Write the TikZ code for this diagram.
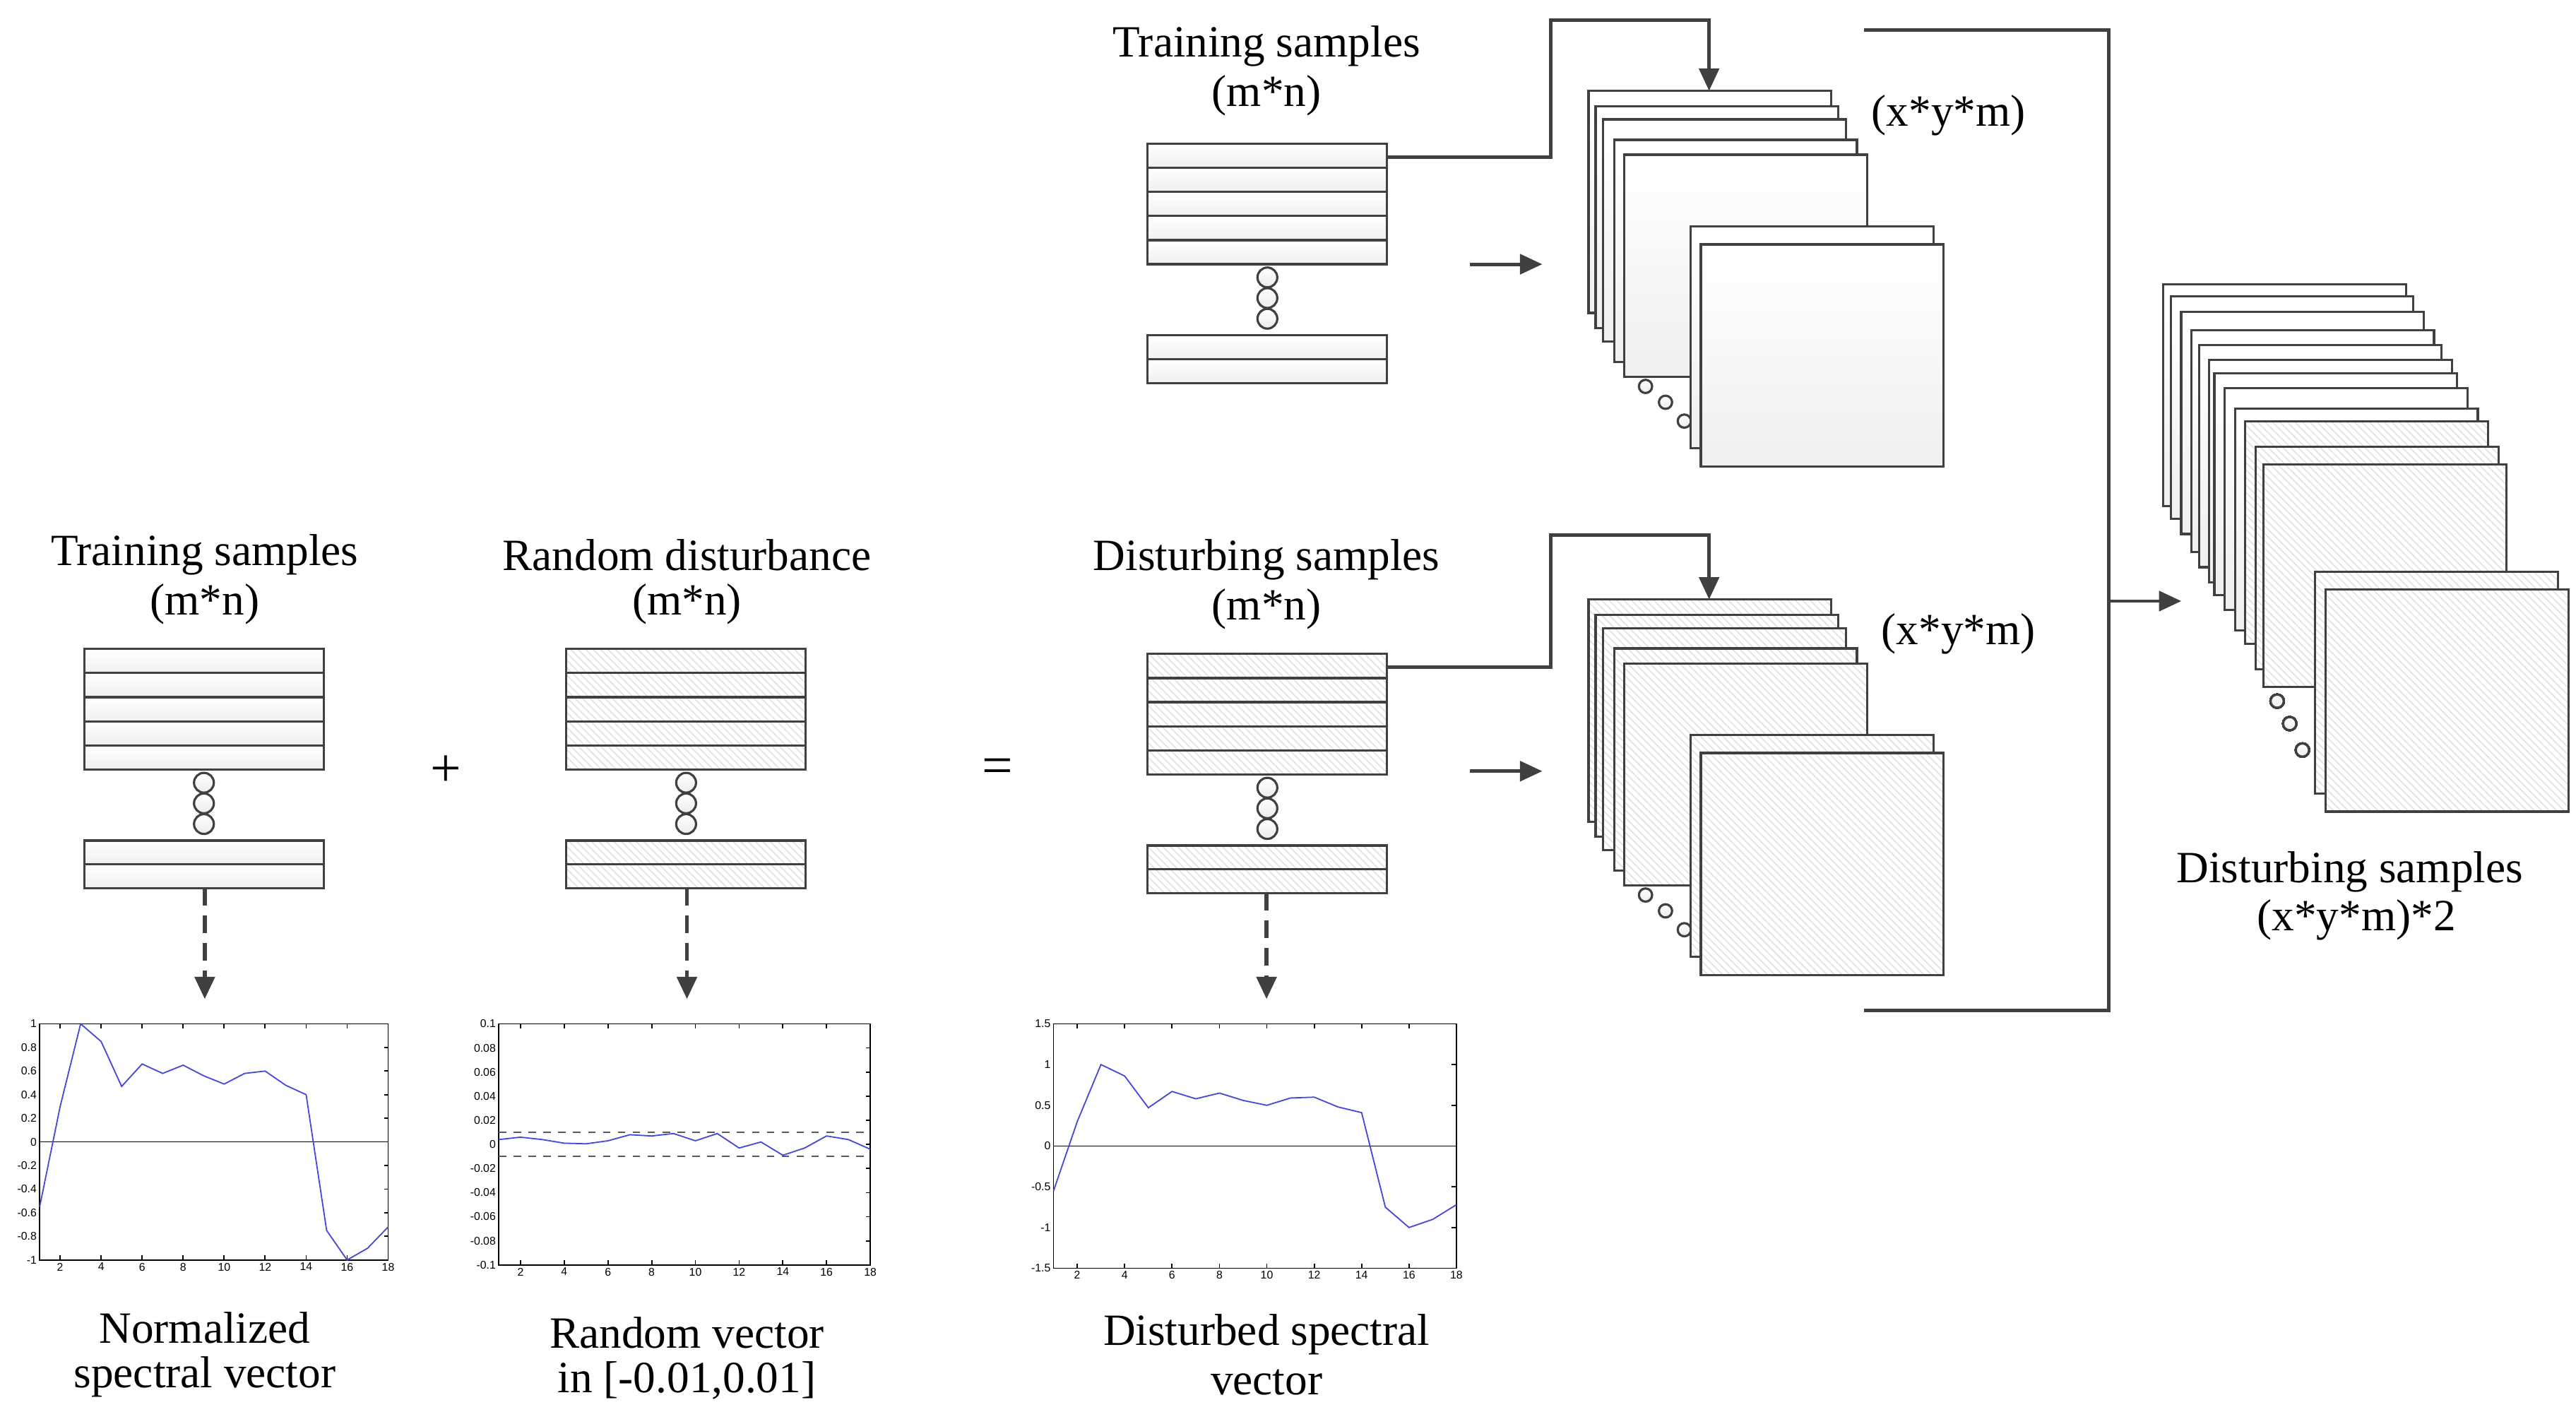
\documentclass[tikz,border=0pt]{standalone}
\usepackage{fontspec}
\setmainfont{Liberation Serif}
\newfontfamily\tickfont{Liberation Sans}
\usetikzlibrary{patterns,arrows.meta}
\definecolor{ln}{HTML}{404040}
\tikzset{
  lbl/.style={font=\fontsize{18}{21}\selectfont, align=center, inner sep=0pt},
  box/.style={draw=ln, line width=0.9pt},
  plain/.style={box, top color=white, bottom color=gray!12},
  hatch/.style={draw=ln, line width=0.9pt, preaction={fill=white}, pattern=north west lines, pattern color=gray!25},
  dot/.style={draw=ln, line width=0.9pt, top color=white, bottom color=gray!15},
  conn/.style={draw=ln, line width=1.4pt},
  arr/.style={conn, -{Triangle[length=9pt,width=8pt]}},
  darr/.style={draw=ln, line width=1.6pt, dash pattern=on 7pt off 4pt, -{Triangle[length=9pt,width=8pt]}},
  ax/.style={draw=black, line width=0.5pt},
  tick/.style={font=\tickfont\fontsize{4.5}{5}\selectfont, inner sep=1pt},
  curve/.style={draw=blue!75, line width=0.5pt}
}
\newcommand\sblock[3]{%
  \foreach \i in {0,...,4} \path[#3] (#1,{#2+\i*14.6}) rectangle ++(145,14.6);
  \foreach \j in {81,93.5,106} \path[dot] ({#1+72.5},{#2+\j}) circle (6);
  \path[#3] (#1,{#2+116}) rectangle ++(145,14.5);
  \path[#3] (#1,{#2+130.5}) rectangle ++(145,14.5);
}
\newcommand\sheet[3]{\path[#3] (#1,#2) rectangle ++(147,134.5);}
\begin{document}
\begin{tikzpicture}[x=0.023378cm,y=-0.023378cm]
\useasboundingbox (0,0) rectangle (1560,855);

% ---------- left block: training samples
\node[lbl] (t1) at (124,336) {Training samples};
\node[lbl] (t1b) at (124,366) {(m*n)};
\sblock{51}{393}{plain}
\coordinate (b1) at (124,538);
\coordinate (p1) at (124,605);
\draw[darr] (b1) -- (p1);

% ---------- middle block: random disturbance
\node[lbl] (t2) at (416,336) {Random disturbance};
\node[lbl] (t2b) at (416,366) {(m*n)};
\sblock{343}{393}{hatch}
\coordinate (b2) at (416,538);
\coordinate (p2) at (416,605);
\draw[darr] (b2) -- (p2);

\node[lbl, font=\fontsize{22}{24}\selectfont] (plus) at (270,467) {+};
\node[lbl, font=\fontsize{22}{24}\selectfont] (eq) at (604,467) {=};

% ---------- disturbing samples block
\node[lbl] (t3) at (767,339) {Disturbing samples};
\node[lbl] (t3b) at (767,369) {(m*n)};
\sblock{695}{396}{hatch}
\coordinate (b3) at (767,541);
\coordinate (p3) at (767,605);
\draw[darr] (b3) -- (p3);

% ---------- top training block
\node[lbl] (t4) at (767,28) {Training samples};
\node[lbl] (t4b) at (767,58) {(m*n)};
\sblock{695}{87}{plain}

% ---------- top stack
\sheet{962}{55}{plain}
\sheet{966.3}{64.2}{plain}
\sheet{970.8}{72.3}{plain}
\sheet{977.5}{84.7}{plain}
\sheet{983.7}{93.7}{plain}
\foreach \x/\y in {996.5/234,1008.6/243.6,1020/255} \path[dot] (\x,\y) circle (4);
\sheet{1023.8}{137}{plain}
\sheet{1030}{148}{plain}
\node[lbl] (l1) at (1180,70) {(x*y*m)};

% ---------- bottom stack
\sheet{962}{363}{hatch}
\sheet{966.3}{372.2}{hatch}
\sheet{970.8}{380.3}{hatch}
\sheet{977.5}{392.7}{hatch}
\sheet{983.7}{401.7}{hatch}
\foreach \x/\y in {996.5/542,1008.6/551.6,1020/563} \path[dot] (\x,\y) circle (4);
\sheet{1023.8}{445}{hatch}
\sheet{1030}{456}{hatch}
\node[lbl] (l2) at (1186,384) {(x*y*m)};

% connectors to stacks
\coordinate (s1) at (840,95);
\coordinate (e1) at (1035,55);
\draw[arr] (s1) -- (939,95) -- (939,12) -- (1035,12) -- (e1);
\coordinate (s2) at (840,404);
\coordinate (e2) at (1035,363);
\draw[arr] (s2) -- (939,404) -- (939,324) -- (1035,324) -- (e2);
\coordinate (a1s) at (890,160); \coordinate (a1e) at (934,160);
\draw[arr] (a1s) -- (a1e);
\coordinate (a2s) at (890,467); \coordinate (a2e) at (934,467);
\draw[arr] (a2s) -- (a2e);

% bracket
\coordinate (bt) at (1129,18);
\coordinate (bb) at (1129,612);
\draw[conn] (bt) -- (1277,18) -- (1277,612) -- (bb);
\coordinate (m1) at (1277,364); \coordinate (m2) at (1321,364);
\draw[arr] (m1) -- (m2);

% ---------- right stack
\foreach \l/\t in {1310/172,1314.5/179.5,1320.9/188.9,1327/199.9,1331.6/209,1337.9/218,1341/226,1347.2/235,1353.5/247.4} \sheet{\l}{\t}{plain}
\foreach \l/\t in {1359.7/255.3,1366/270.7,1370.8/281.4} \sheet{\l}{\t}{hatch}
\foreach \x/\y in {1379/424.6,1386.6/438.2,1394.3/454.2} \path[dot] (\x,\y) circle (4);
\sheet{1402.1}{346.1}{hatch}
\sheet{1408.4}{357}{hatch}
\node[lbl] (t5) at (1423,528) {Disturbing samples};
\node[lbl] (t5b) at (1427,557) {(x*y*m)*2};

% ---------- plot 1
\begin{scope}[shift={(24,763)}, x=0.2902cm, y=1.6716cm]
  \path[ax] (0,0) rectangle (17,2);
  \foreach \k in {1,3,...,17} {\draw[ax] (\k,0) -- (\k,0.04); \draw[ax] (\k,2) -- (\k,1.96);}
  \foreach \v/\t in {0/-1,0.2/-0.8,0.4/-0.6,0.6/-0.4,0.8/-0.2,1/0,1.2/0.2,1.4/0.4,1.6/0.6,1.8/0.8,2/1}
    {\draw[ax] (17,\v) -- (16.8,\v); \node[tick, anchor=east] at (0,\v) {\t};}
  \foreach \k/\t in {1/2,3/4,5/6,7/8,9/10,11/12,13/14,15/16,17/18} \node[tick, anchor=north] at (\k,0) {\t};
  \draw[ax] (0,1) -- (17,1);
  \draw[curve] (0,0.45) -- (1,1.3) -- (2,2) -- (3,1.85) -- (4,1.47) -- (5,1.66) -- (6,1.58) -- (7,1.65) -- (8,1.56) -- (9,1.49) -- (10,1.58) -- (11,1.6) -- (12,1.48) -- (13,1.4) -- (14,0.25) -- (15,0) -- (16,0.1) -- (17,0.28);
\end{scope}
\node[lbl] (c1) at (124,804) {Normalized};
\node[lbl] (c1b) at (124,834) {spectral vector};

% ---------- plot 2
\begin{scope}[shift={(302,766)}, x=0.3094cm, y=0.17066cm]
  \path[ax] (0,0) rectangle (17,20);
  \foreach \k in {1,3,...,17} {\draw[ax] (\k,0) -- (\k,0.4); \draw[ax] (\k,20) -- (\k,19.6);}
  \foreach \v/\t in {0/-0.1,2/-0.08,4/-0.06,6/-0.04,8/-0.02,10/0,12/0.02,14/0.04,16/0.06,18/0.08,20/0.1}
    {\draw[ax] (17,\v) -- (16.8,\v); \node[tick, anchor=east] at (0,\v) {\t};}
  \foreach \k/\t in {1/2,3/4,5/6,7/8,9/10,11/12,13/14,15/16,17/18} \node[tick, anchor=north] at (\k,0) {\t};
  \draw[ax, gray!70!black, dashed] (0,11) -- (17,11);
  \draw[ax, gray!70!black, dashed] (0,9) -- (17,9);
  \draw[curve] (0,10.4) -- (1,10.6) -- (2,10.4) -- (3,10.1) -- (4,10.05) -- (5,10.3) -- (6,10.8) -- (7,10.7) -- (8,10.9) -- (9,10.3) -- (10,10.9) -- (11,9.7) -- (12,10.2) -- (13,9.1) -- (14,9.7) -- (15,10.7) -- (16,10.4) -- (17,9.6);
\end{scope}
\node[lbl] (c2) at (416,807) {Random vector};
\node[lbl] (c2b) at (416,836) {in [-0.01,0.01]};

% ---------- plot 3
\begin{scope}[shift={(638,768)}, x=0.3355cm, y=1.1533cm]
  \path[ax] (0,0) rectangle (17,3);
  \foreach \k in {1,3,...,17} {\draw[ax] (\k,0) -- (\k,0.06); \draw[ax] (\k,3) -- (\k,2.94);}
  \foreach \v/\t in {0/-1.5,0.5/-1,1/-0.5,1.5/0,2/0.5,2.5/1,3/1.5}
    {\draw[ax] (17,\v) -- (16.8,\v); \node[tick, anchor=east] at (0,\v) {\t};}
  \foreach \k/\t in {1/2,3/4,5/6,7/8,9/10,11/12,13/14,15/16,17/18} \node[tick, anchor=north] at (\k,0) {\t};
  \draw[ax] (0,1.5) -- (17,1.5);
  \draw[curve] (0,0.95) -- (1,1.8) -- (2,2.5) -- (3,2.36) -- (4,1.97) -- (5,2.17) -- (6,2.08) -- (7,2.15) -- (8,2.06) -- (9,2.0) -- (10,2.09) -- (11,2.1) -- (12,1.98) -- (13,1.91) -- (14,0.75) -- (15,0.5) -- (16,0.6) -- (17,0.78);
\end{scope}
\node[lbl] (c3) at (767,808) {Disturbed spectral};
\node[lbl] (c3b) at (767,837) {vector};
\end{tikzpicture}
\end{document}
